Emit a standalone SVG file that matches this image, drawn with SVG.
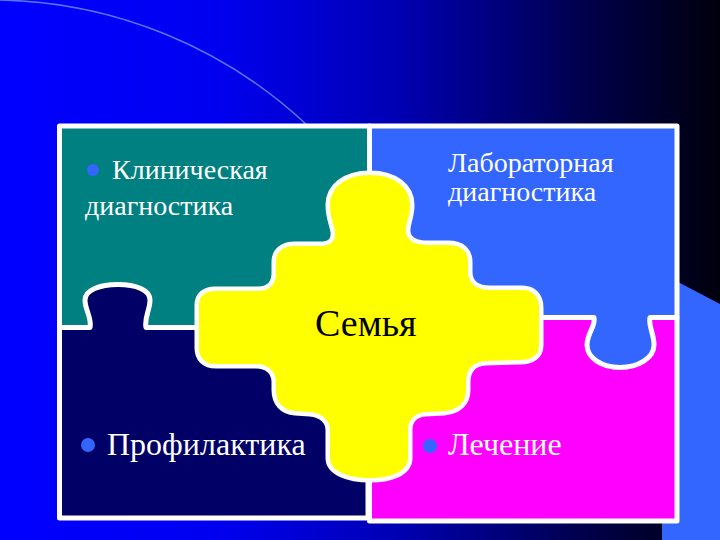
<svg xmlns="http://www.w3.org/2000/svg" width="720" height="540" viewBox="0 0 720 540">
<defs>
<linearGradient id="bg" x1="0" y1="0" x2="1" y2="0">
<stop offset="0" stop-color="#0000ff"/>
<stop offset="0.3" stop-color="#0000f0"/>
<stop offset="0.55" stop-color="#0000b4"/>
<stop offset="0.8" stop-color="#000050"/>
<stop offset="1" stop-color="#00000c"/>
</linearGradient>
<style>
.piece{stroke:#ffffff;stroke-width:5;stroke-linejoin:round}
.lbl{font-family:"Liberation Serif","DejaVu Serif",serif;fill:#ffffff}
.bul{fill:#3366ff}
</style>
</defs>
<rect x="0" y="0" width="720" height="540" fill="url(#bg)"/>
<path d="M 0,0 A 462 462 0 0 1 307,125" fill="none" stroke="#5577ff" stroke-width="1.5"/>
<polygon points="678,282 720,304 720,540 662,540 662,522 678,522" fill="#3366ff"/>

<g id="clinical">
<rect class="piece" x="59.5" y="126" width="310" height="201.5" fill="#008080"/>
<circle class="bul" cx="93" cy="170" r="6"/>
<text class="lbl" x="112" y="179" font-size="28">Клиническая</text>
<text class="lbl" x="85" y="215" font-size="28">диагностика</text>
</g>

<g id="treatment">
<rect class="piece" x="369.5" y="317.5" width="307.5" height="203.5" fill="#ff00ff"/>
<circle class="bul" cx="430" cy="446" r="7"/>
<text class="lbl" x="448" y="455" font-size="32">Лечение</text>
</g>

<g id="laboratory">
<path class="piece" fill="#3366ff" d="M 369.5,126 L 677,126 L 677,317.5 L 650,317.5 C 648,326 654,333 654,345 C 654,358 638,367.5 620,367.5 C 602,367.5 587,358 587,345 C 587,333 596,326 594,317.5 L 369.5,317.5 Z"/>
<text class="lbl" x="448" y="172" font-size="28">Лабораторная</text>
<text class="lbl" x="448" y="201" font-size="28">диагностика</text>
</g>

<g id="prevention">
<path class="piece" fill="#000066" d="M 59.5,327.5 L 90,327.5 C 92,318 85,310 85,300 C 85,290 100,284.5 118,284.5 C 136,284.5 150,290 150,300 C 150,310 144,318 146,327.5 L 368,327.5 L 368,518 L 59.5,518 Z"/>
<circle class="bul" cx="88" cy="445" r="7"/>
<text class="lbl" x="107" y="455" font-size="32">Профилактика</text>
</g>

<g id="family">
<path fill="#ffff00" stroke="#ffffff" stroke-width="9" stroke-linejoin="round" paint-order="stroke" d="M 370,175 C 395,175 410,188 410,205 C 410,218 405,224 406,232 C 407,241 415,245 428,245 L 448,245 C 462,245 468,252 468,262 L 468,272 C 468,283 476,290 490,290 L 522,290 C 533,290 539,297 539,308 L 539,345 C 539,355 532,360 520,360 L 485,361 C 472,362 466,370 466,382 L 466,390 C 466,402 458,410 444,411 L 425,412 C 414,413 408,420 408,430 L 408,458 C 408,471 392,478 370,478 C 348,478 330,471 330,458 L 330,430 C 330,420 322,413 310,412 L 295,411 C 283,410 276,402 276,390 L 276,382 C 276,371 268,364 256,364 L 216,364 C 205,364 199,358 199,348 L 199,305 C 199,296 205,291 215,291 L 258,291 C 270,291 276,284 276,273 L 276,262 C 276,252 283,246 295,246 L 320,246 C 332,246 336,240 335,232 C 334,224 330,218 330,205 C 330,188 345,175 370,175 Z"/>
<text x="315" y="336" font-family="Liberation Serif, DejaVu Serif, serif" font-size="38" fill="#000000">Семья</text>
</g>
</svg>
